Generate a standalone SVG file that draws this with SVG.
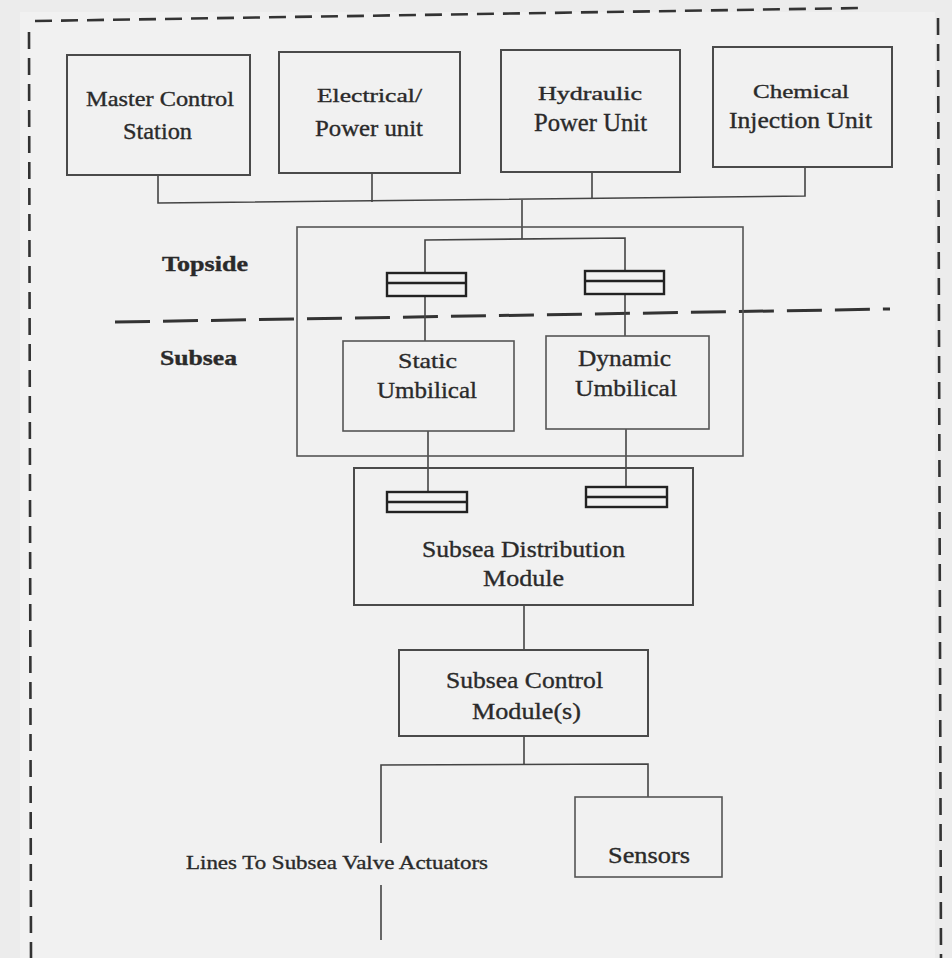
<svg xmlns="http://www.w3.org/2000/svg" width="952" height="958" viewBox="0 0 952 958">
  <style>
    .box { fill: none; stroke: #4a4a4a; stroke-width: 2; }
    .frame { fill: none; stroke: #555; stroke-width: 1.6; }
    .wire { fill: none; stroke: #444; stroke-width: 1.6; }
    .coupler { fill: none; stroke: #222; stroke-width: 2.4; }
    .border { fill: none; stroke: #333; stroke-width: 2.6; stroke-dasharray: 17 9; }
    .split { fill: none; stroke: #333; stroke-width: 3; stroke-dasharray: 35 13; }
    text { font-family: "Liberation Serif", "Times New Roman", serif; fill: #2a2a2a; stroke: #2a2a2a; stroke-width: 0.35; }
    .bold { font-weight: bold; }
  </style>

  <!-- paper -->
  <rect x="0" y="0" width="952" height="958" fill="#ececec"/>
  <rect x="20" y="12" width="915" height="946" fill="#f1f1f1"/>

  <!-- dashed outer boundary -->
  <g id="boundary">
    <path class="border" d="M35 21 L862 8"/>
    <path class="border" d="M29 32 L31 958"/>
    <path class="border" d="M938 18 L941 958"/>
  </g>

  <!-- topside / subsea division -->
  <g id="waterline">
    <path class="split" d="M115 322 L890 309"/>
    <text class="bold" x="162" y="271" font-size="20" textLength="86" lengthAdjust="spacingAndGlyphs">Topside</text>
    <text class="bold" x="160" y="365" font-size="20" textLength="77" lengthAdjust="spacingAndGlyphs">Subsea</text>
  </g>

  <!-- connectors -->
  <g id="connectors">
    <path class="wire" d="M158 175 L158 203 L805 196 L805 167"/>
    <path class="wire" d="M372 173 L372 202"/>
    <path class="wire" d="M592 172 L592 198"/>
    <path class="wire" d="M522 200 L522 239"/>
    <path class="wire" d="M425 273 L425 240 L625 238 L625 271"/>
    <path class="wire" d="M425 296 L425 341"/>
    <path class="wire" d="M625 294 L625 336"/>
    <path class="wire" d="M428 431 L428 492"/>
    <path class="wire" d="M626 429 L626 487"/>
    <path class="wire" d="M524 605 L524 650"/>
    <path class="wire" d="M524 736 L524 764"/>
    <path class="wire" d="M381 843 L381 765 L648 764 L648 797"/>
    <path class="wire" d="M381 885 L381 940"/>
  </g>

  <!-- topside units -->
  <g id="master-control-station">
    <rect class="box" x="67" y="55" width="183" height="120"/>
    <text x="86" y="106" font-size="21" textLength="148" lengthAdjust="spacingAndGlyphs">Master Control</text>
    <text x="123" y="139" font-size="24" textLength="69" lengthAdjust="spacingAndGlyphs">Station</text>
  </g>

  <g id="electrical-power-unit">
    <rect class="box" x="279" y="52" width="181" height="121"/>
    <text x="317" y="102" font-size="19" textLength="105" lengthAdjust="spacingAndGlyphs">Electrical/</text>
    <text x="315" y="136" font-size="24" textLength="108" lengthAdjust="spacingAndGlyphs">Power unit</text>
  </g>

  <g id="hydraulic-power-unit">
    <rect class="box" x="501" y="50" width="179" height="122"/>
    <text x="538" y="100" font-size="18" textLength="104" lengthAdjust="spacingAndGlyphs">Hydraulic</text>
    <text x="534" y="131" font-size="25" textLength="113" lengthAdjust="spacingAndGlyphs">Power Unit</text>
  </g>

  <g id="chemical-injection-unit">
    <rect class="box" x="713" y="47" width="179" height="120"/>
    <text x="753" y="98" font-size="19" textLength="96" lengthAdjust="spacingAndGlyphs">Chemical</text>
    <text x="729" y="128" font-size="23" textLength="143" lengthAdjust="spacingAndGlyphs">Injection Unit</text>
  </g>

  <!-- umbilical assembly -->
  <g id="umbilical-assembly">
    <rect class="frame" x="297" y="227" width="446" height="229"/>
  </g>

  <g id="topside-coupler-static">
    <rect class="coupler" x="387" y="273" width="79" height="23"/>
    <line class="coupler" x1="387" y1="283" x2="466" y2="283"/>
  </g>

  <g id="topside-coupler-dynamic">
    <rect class="coupler" x="585" y="271" width="79" height="23"/>
    <line class="coupler" x1="585" y1="281" x2="664" y2="281"/>
  </g>

  <g id="static-umbilical">
    <rect class="frame" x="343" y="341" width="171" height="90"/>
    <text x="398" y="368" font-size="22" textLength="59" lengthAdjust="spacingAndGlyphs">Static</text>
    <text x="377" y="398" font-size="24" textLength="100" lengthAdjust="spacingAndGlyphs">Umbilical</text>
  </g>

  <g id="dynamic-umbilical">
    <rect class="frame" x="546" y="336" width="163" height="93"/>
    <text x="578" y="366" font-size="24" textLength="93" lengthAdjust="spacingAndGlyphs">Dynamic</text>
    <text x="575" y="396" font-size="24" textLength="102" lengthAdjust="spacingAndGlyphs">Umbilical</text>
  </g>

  <!-- subsea equipment -->
  <g id="subsea-distribution-module">
    <rect class="box" x="354" y="468" width="339" height="137"/>
    <rect class="coupler" x="387" y="492" width="80" height="20"/>
    <line class="coupler" x1="387" y1="502" x2="467" y2="502"/>
    <rect class="coupler" x="586" y="487" width="81" height="20"/>
    <line class="coupler" x1="586" y1="497" x2="667" y2="497"/>
    <text x="422" y="557" font-size="24" textLength="203" lengthAdjust="spacingAndGlyphs">Subsea Distribution</text>
    <text x="483" y="586" font-size="24" textLength="81" lengthAdjust="spacingAndGlyphs">Module</text>
  </g>

  <g id="subsea-control-module">
    <rect class="box" x="399" y="650" width="249" height="86"/>
    <text x="446" y="688" font-size="24" textLength="157" lengthAdjust="spacingAndGlyphs">Subsea Control</text>
    <text x="472" y="719" font-size="24" textLength="109" lengthAdjust="spacingAndGlyphs">Module(s)</text>
  </g>

  <g id="sensors">
    <rect class="frame" x="575" y="797" width="147" height="80"/>
    <text x="608" y="863" font-size="23" textLength="82" lengthAdjust="spacingAndGlyphs">Sensors</text>
  </g>

  <g id="valve-actuator-lines">
    <text x="186" y="869" font-size="19" textLength="302" lengthAdjust="spacingAndGlyphs">Lines To Subsea Valve Actuators</text>
  </g>
</svg>
